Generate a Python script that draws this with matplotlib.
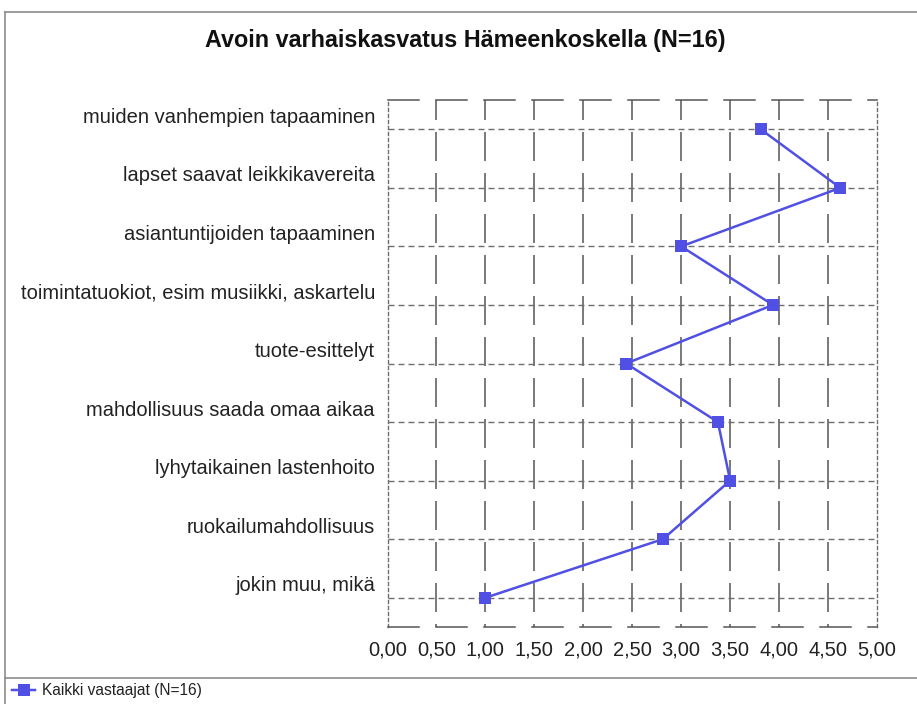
import matplotlib
matplotlib.use("Agg")
import matplotlib.pyplot as plt
import matplotlib.transforms as mtransforms
from matplotlib.lines import Line2D
from matplotlib.ticker import FuncFormatter, MultipleLocator

plt.rcParams['font.family'] = ['Liberation Sans', 'DejaVu Sans']

title = "Avoin varhaiskasvatus Hämeenkoskella (N=16)"
categories = [
    "muiden vanhempien tapaaminen",
    "lapset saavat leikkikavereita",
    "asiantuntijoiden tapaaminen",
    "toimintatuokiot, esim musiikki, askartelu",
    "tuote-esittelyt",
    "mahdollisuus saada omaa aikaa",
    "lyhytaikainen lastenhoito",
    "ruokailumahdollisuus",
    "jokin muu, mikä",
]
values = [3.8125, 4.625, 3.0, 3.9375, 2.4375, 3.375, 3.5, 2.8125, 1.0]
series_name = "Kaikki vastaajat (N=16)"
x_ticks = [0.0, 0.5, 1.0, 1.5, 2.0, 2.5, 3.0, 3.5, 4.0, 4.5, 5.0]

W, H = 917, 704
fig = plt.figure(figsize=(W / 100, H / 100), dpi=100)
px = 72 / 100  # points per pixel

ax_l, ax_r, ax_t, ax_b = 387.5, 877, 100, 627
ax = fig.add_axes([ax_l / W, 1 - ax_b / H, (ax_r - ax_l) / W, (ax_b - ax_t) / H])

ypos = list(range(len(categories)))
ax.set_xlim(x_ticks[0], x_ticks[-1])
ax.set_ylim(len(categories) - 0.5, -0.5)

grid_v = '#555555'
grid_h = '#6e6e6e'
lwv = 1.1
dash_v = (9 * px / lwv, (29 * px / lwv, 12 * px / lwv))
# vertical gridlines (long dashes starting at top)
for xv in x_ticks[1:-1]:
    ax.plot([xv, xv], [-0.5, len(categories) - 0.5], color=grid_v, lw=lwv,
            linestyle=dash_v, dash_capstyle='butt', zorder=1)
# horizontal gridlines at categories (short dashes)
for yv in ypos:
    ax.plot([x_ticks[0], x_ticks[-1]], [yv, yv], color=grid_h, lw=1.0,
            dashes=(6 * px, 4 * px), zorder=1)

# spines
for side in ['top', 'bottom']:
    ax.spines[side].set_color(grid_v)
    ax.spines[side].set_linewidth(lwv)
    ax.spines[side].set_linestyle((0, (31 * px / lwv, 17 * px / lwv)))
for side in ['left', 'right']:
    ax.spines[side].set_color(grid_h)
    ax.spines[side].set_linewidth(1.0)
    ax.spines[side].set_linestyle((0, (3 * px, 3 * px)))

line_color = '#5050e4'
ax.plot(values, ypos, color=line_color, lw=2.5 * px, marker='s',
        markersize=12 * px, markeredgewidth=0, zorder=3, label=series_name,
        clip_on=False)

ax.xaxis.set_major_locator(MultipleLocator(0.5))
ax.xaxis.set_major_formatter(FuncFormatter(lambda v, p: f"{v:.2f}".replace('.', ',')))
ax.set_yticks(ypos)
ax.set_yticklabels(categories)
ax.tick_params(axis='both', length=0, labelsize=14.5, colors='#222222')
ax.tick_params(axis='x', pad=10)
ax.tick_params(axis='y', pad=9)

offset = mtransforms.ScaledTranslation(0, 14 / 100, fig.dpi_scale_trans)
for lbl in ax.get_yticklabels():
    lbl.set_transform(lbl.get_transform() + offset)

fig.text(465 / W, 1 - 40 / H, title, ha='center', va='center',
         fontsize=16.8, fontweight='bold', color='#111111')

# outer frame and legend divider
frame_c = '#8c8c8c'
fig.add_artist(Line2D([5 / W, 5 / W], [0, 1 - 12 / H], color=frame_c, lw=1.2,
                      transform=fig.transFigure))
fig.add_artist(Line2D([5 / W, 1], [1 - 12 / H, 1 - 12 / H], color=frame_c, lw=1.2,
                      transform=fig.transFigure))
fig.add_artist(Line2D([5 / W, 1], [1 - 678 / H, 1 - 678 / H], color=frame_c, lw=1.2,
                      transform=fig.transFigure))

fig.legend(handles=[Line2D([], [], color=line_color, lw=2.5 * px, marker='s',
                           markersize=12 * px, markeredgewidth=0)],
           labels=[series_name], loc='center left',
           bbox_to_anchor=(12 / W, 1 - 691 / H), frameon=False,
           fontsize=11.2, handlelength=1.5, handletextpad=0.45,
           borderpad=0, borderaxespad=0, labelcolor='#222222')

fig.savefig("out.png", dpi=100, facecolor='white')
